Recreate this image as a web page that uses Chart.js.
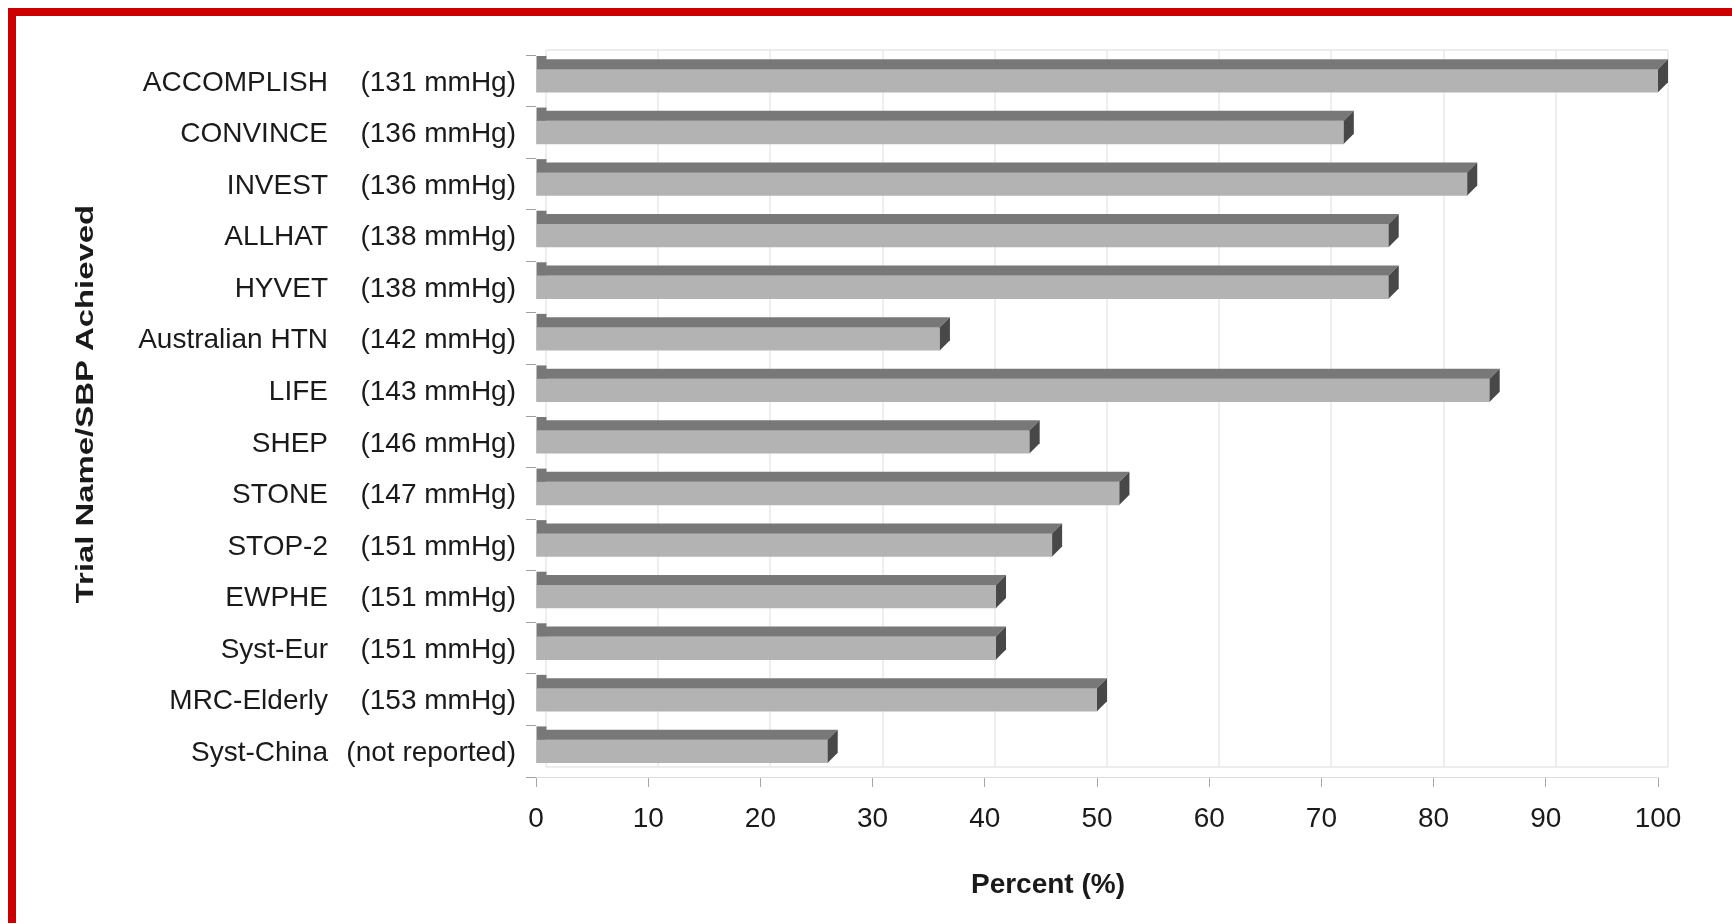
<!DOCTYPE html>
<html>
<head>
<meta charset="utf-8">
<script src="https://cdn.jsdelivr.net/npm/chart.js@4.4.1/dist/chart.umd.min.js"></script>
<style>
  html, body { margin: 0; padding: 0; background: #ffffff; }
  #wrap { width: 1732px; height: 923px; }
</style>
</head>
<body>
<div id="wrap"><canvas id="chart" width="1732" height="923"></canvas></div>
<script>
// Trials, ordered by achieved systolic blood pressure
const trialNames = [
  'ACCOMPLISH', 'CONVINCE', 'INVEST', 'ALLHAT', 'HYVET', 'Australian HTN', 'LIFE',
  'SHEP', 'STONE', 'STOP-2', 'EWPHE', 'Syst-Eur', 'MRC-Elderly', 'Syst-China'
];
const sbpLabels = [
  '(131 mmHg)', '(136 mmHg)', '(136 mmHg)', '(138 mmHg)', '(138 mmHg)', '(142 mmHg)', '(143 mmHg)',
  '(146 mmHg)', '(147 mmHg)', '(151 mmHg)', '(151 mmHg)', '(151 mmHg)', '(153 mmHg)', '(not reported)'
];
const percentValues = [100, 72, 83, 76, 76, 36, 85, 44, 52, 46, 41, 41, 50, 26];
const percentTicks = [0, 10, 20, 30, 40, 50, 60, 70, 80, 90, 100];

const axisTitleX = 'Percent (%)';
const axisTitleY = 'Trial Name/SBP Achieved';

const FONT = "'Liberation Sans', Arial, Helvetica, sans-serif";
const DEPTH = 10;          // 3-D depth offset of the bars and back wall
const FRONT = '#b3b3b3';
const TOP = '#787878';
const CAP = '#484848';
const GRID = '#e8e8e8';
const TEXT = '#1a1a1a';

// Frame, back wall grid and floor
const backdrop = {
  id: 'backdrop',
  beforeDraw(chart) {
    const ctx = chart.ctx;
    ctx.save();
    ctx.fillStyle = '#ffffff';
    ctx.fillRect(0, 0, chart.width, chart.height);
    ctx.fillStyle = '#cc0000';
    ctx.fillRect(8, 8, chart.width - 8, 8);
    ctx.fillRect(8, 8, 8, chart.height - 8);
    ctx.restore();
  },
  beforeDatasetsDraw(chart) {
    const ctx = chart.ctx;
    const x = chart.scales.x, y = chart.scales.y;
    const area = chart.chartArea;
    const backTop = area.top - 5;
    const backBottom = area.bottom - DEPTH;
    ctx.save();
    ctx.strokeStyle = GRID;
    ctx.lineWidth = 1.5;
    percentTicks.forEach(v => {
      const px = Math.round(x.getPixelForValue(v)) + DEPTH;
      ctx.beginPath();
      ctx.moveTo(px, backTop);
      ctx.lineTo(px, backBottom);
      ctx.stroke();
    });
    const x0 = x.getPixelForValue(0) + DEPTH;
    const x1 = x.getPixelForValue(100) + DEPTH;
    ctx.beginPath();
    ctx.moveTo(x0, backTop); ctx.lineTo(x1, backTop);
    ctx.moveTo(x0, backBottom); ctx.lineTo(x1, backBottom);
    ctx.stroke();

    // shadow strip on the left wall above each bar
    const meta = chart.getDatasetMeta(0);
    const step = (area.bottom - area.top) / trialNames.length;
    ctx.fillStyle = TOP;
    meta.data.forEach((bar, i) => {
      const p = bar.getProps(['x', 'y', 'base', 'height'], true);
      const frontTop = p.y - p.height / 2;
      const catTop = y.getPixelForTick(i) - step / 2;
      ctx.fillRect(p.base, catTop + 1, DEPTH, frontTop - catTop - 1);
    });
    ctx.restore();
  },
  afterDatasetsDraw(chart) {
    const ctx = chart.ctx;
    const meta = chart.getDatasetMeta(0);
    ctx.save();
    meta.data.forEach(bar => {
      const p = bar.getProps(['x', 'y', 'base', 'height'], true);
      const t = p.y - p.height / 2;
      const b = p.y + p.height / 2;
      // top face
      ctx.fillStyle = TOP;
      ctx.beginPath();
      ctx.moveTo(p.base, t);
      ctx.lineTo(p.x, t);
      ctx.lineTo(p.x + DEPTH, t - DEPTH);
      ctx.lineTo(p.base + DEPTH, t - DEPTH);
      ctx.closePath();
      ctx.fill();
      // end cap
      ctx.fillStyle = CAP;
      ctx.beginPath();
      ctx.moveTo(p.x, t);
      ctx.lineTo(p.x + DEPTH, t - DEPTH);
      ctx.lineTo(p.x + DEPTH, b - DEPTH);
      ctx.lineTo(p.x, b);
      ctx.closePath();
      ctx.fill();
    });
    ctx.restore();
  },
  afterDraw(chart) {
    const ctx = chart.ctx;
    const y = chart.scales.y;
    ctx.save();
    // trial names column
    ctx.fillStyle = TEXT;
    ctx.font = '28px ' + FONT;
    ctx.textAlign = 'right';
    ctx.textBaseline = 'middle';
    trialNames.forEach((name, i) => {
      ctx.fillText(name, 328, y.getPixelForTick(i) + 2);
    });
    // axis titles
    ctx.font = 'bold 28px ' + FONT;
    ctx.textAlign = 'center';
    ctx.fillText(axisTitleX, 1048, 885);
    ctx.translate(86, 404);
    ctx.rotate(-Math.PI / 2);
    ctx.scale(1.37, 1);
    ctx.font = 'bold 24px ' + FONT;
    ctx.fillText(axisTitleY, 0, 0);
    ctx.restore();
  }
};

new Chart(document.getElementById('chart'), {
  type: 'bar',
  data: {
    labels: trialNames,
    datasets: [{
      data: percentValues,
      backgroundColor: FRONT,
      borderWidth: 0,
      barThickness: 23
    }]
  },
  options: {
    indexAxis: 'y',
    responsive: false,
    animation: false,
    devicePixelRatio: 1,
    layout: { padding: { left: 0, right: 74, top: 55, bottom: 0 } },
    plugins: {
      legend: { display: false },
      tooltip: { enabled: false }
    },
    scales: {
      x: {
        min: 0,
        max: 100,
        afterFit(scale) { scale.height = 146; },
        afterBuildTicks(scale) { scale.ticks = percentTicks.map(v => ({ value: v })); },
        border: { display: true, color: '#dcdcdc', width: 1 },
        grid: { drawOnChartArea: false, drawTicks: true, tickLength: 10, color: '#a8a8a8' },
        ticks: {
          color: TEXT,
          font: { family: FONT, size: 28 },
          padding: 15,
          maxRotation: 0
        }
      },
      y: {
        afterFit(scale) { scale.width = 536; },
        border: { display: false },
        grid: { drawOnChartArea: false, drawTicks: true, tickLength: 10, color: '#a0a0a0', offset: true },
        ticks: {
          color: TEXT,
          font: { family: FONT, size: 28 },
          padding: 10,
          labelOffset: 2,
          autoSkip: false,
          callback: (value, index) => sbpLabels[index]
        }
      }
    }
  },
  plugins: [backdrop]
});
</script>
</body>
</html>
